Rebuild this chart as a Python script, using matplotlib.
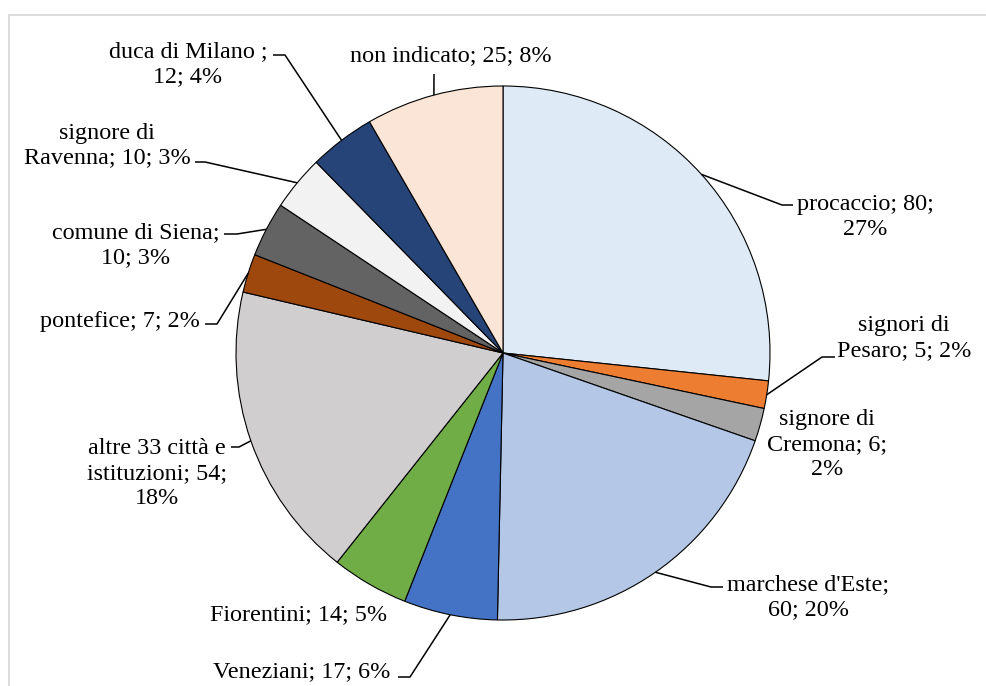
import numpy as np
import matplotlib
matplotlib.use("Agg")
import matplotlib.pyplot as plt
from matplotlib.patches import Rectangle

# data
names = ["procaccio", "signori di Pesaro", "signore di Cremona", "marchese d'Este",
         "Veneziani", "Fiorentini", "altre 33 città e istituzioni", "pontefice",
         "comune di Siena", "signore di Ravenna", "duca di Milano ", "non indicato"]
values = [80, 5, 6, 60, 17, 14, 54, 7, 10, 10, 12, 25]
colors = ["#DEEAF6", "#ED7D31", "#A5A5A5", "#B4C7E7", "#4472C4", "#70AD47",
          "#D0CECE", "#9E480E", "#636363", "#F2F2F2", "#264478", "#FBE5D6"]

# label layout (pixel coords, y from top): word count before each line break,
# text centre, and leader line elbow/end (None = no leader)
breaks = [[2], [2], [2, 4], [2], [], [], [4, 6], [], [3], [2], [4], []]
text_pos = [(865, 215), (904, 336), (827, 442), (808, 595), (302, 669), (299, 612),
            (157, 471), (120, 319), (136, 243), (107, 143), (188, 62), (451, 53)]
leaders = [[(782, 205), (793, 205)], [(822, 357), (835, 357)], None,
           [(711, 587), (723, 587)], [(410, 677), (398, 677)], None,
           [(239, 447), (231, 447)], [(217, 324), (205, 324)],
           [(237, 234), (224, 234)], [(205, 162), (195, 162)],
           [(285, 55), (273, 55)], [(434, 74)]]

W, H = 987, 686
plt.rcParams['font.family'] = ['Liberation Serif', 'DejaVu Serif']

fig = plt.figure(figsize=(W / 100, H / 100), dpi=100)
ax = fig.add_axes([0, 0, 1, 1])

cx, cy, r = 503, 353, 267
wedges, _ = ax.pie(values, colors=colors, startangle=90, counterclock=False,
                   center=(cx, H - cy), radius=r,
                   wedgeprops=dict(edgecolor="black", linewidth=0.8))
ax.set_xlim(0, W)
ax.set_ylim(0, H)
ax.set_aspect("equal")
ax.axis("off")

# chart frame (cut off at right and bottom)
ax.add_patch(Rectangle((8.5, -20), 1100, H - 14.5 + 20, fill=False,
                       edgecolor="#D9D9D9", linewidth=1.3))

total = sum(values)
for i, (w, name, v) in enumerate(zip(wedges, names, values)):
    pct = round(v / total * 100)
    words = f"{name}; {v}; {pct}%".split(" ")
    lines, start = [], 0
    for b in breaks[i] + [len(words)]:
        lines.append(" ".join(words[start:b]))
        start = b
    label = "\n".join(lines)
    tx, ty = text_pos[i]
    ax.text(tx, H - ty - 2.5, label, ha="center", va="center", fontsize=17.4,
            linespacing=1.25, color="#000000")
    if leaders[i]:
        mid = np.deg2rad((w.theta1 + w.theta2) / 2)
        ex, ey = cx + r * np.cos(mid), (H - cy) + r * np.sin(mid)
        xs = [ex] + [p[0] for p in leaders[i]]
        ys = [ey] + [H - p[1] for p in leaders[i]]
        ax.plot(xs, ys, color="black", linewidth=1.1, solid_capstyle="butt")

fig.savefig("out.png", dpi=100, facecolor="white")
